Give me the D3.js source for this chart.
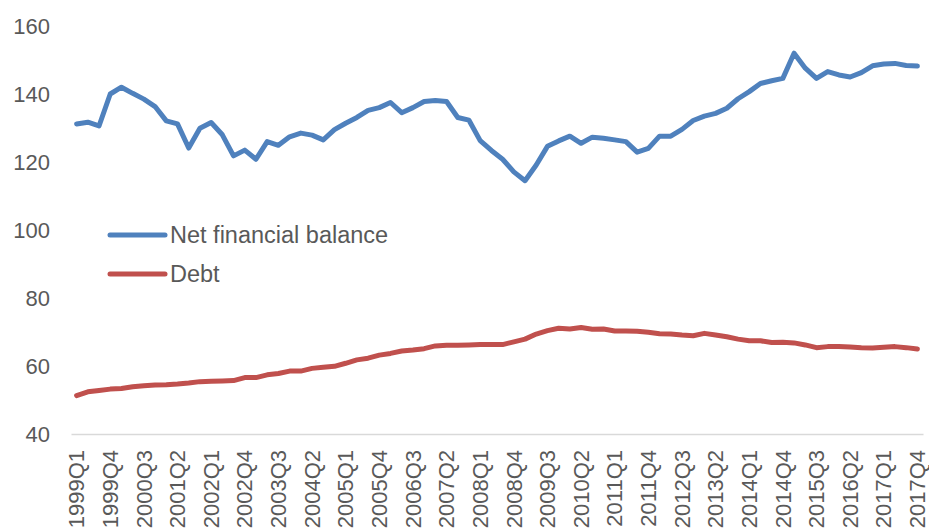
<!DOCTYPE html>
<html>
<head>
<meta charset="utf-8">
<script src="https://cdn.jsdelivr.net/npm/d3@7"></script>
<style>
  body { margin: 0; background: #fff; }
  text { font-family: "Liberation Sans", Arial, sans-serif; fill: #595959; }
</style>
</head>
<body>
<div id="chart"></div>
<script>
// quarters 1999Q1 .. 2017Q4
const years = d3.range(1999, 2018);
const quarters = years.flatMap(y => [1, 2, 3, 4].map(q => y + "Q" + q));

const netFinancialBalance = [
  131.2, 131.7, 130.6, 140.0, 142.0, 140.2, 138.5, 136.3, 132.1, 131.2,
  124.1, 129.9, 131.6, 128.0, 121.8, 123.5, 120.8, 126.0, 124.9, 127.4,
  128.5, 127.9, 126.5, 129.5, 131.4, 133.1, 135.2, 136.0, 137.5, 134.5,
  136.0, 137.8, 138.1, 137.8, 133.1, 132.3, 126.3, 123.4, 120.8, 117.1,
  114.5, 119.1, 124.6, 126.2, 127.6, 125.5, 127.3, 127.0, 126.5, 126.0,
  122.9, 124.0, 127.6, 127.6, 129.6, 132.2, 133.5, 134.3, 135.8, 138.6,
  140.7, 143.1, 143.9, 144.6, 152.0, 147.6, 144.6, 146.6, 145.6, 145.0,
  146.3, 148.3, 148.8, 149.0, 148.4, 148.2
];

const debt = [
  51.3, 52.4, 52.8, 53.2, 53.4, 53.9, 54.2, 54.4, 54.5, 54.7,
  55.0, 55.4, 55.5, 55.6, 55.7, 56.6, 56.6, 57.4, 57.8, 58.5,
  58.5, 59.3, 59.6, 59.9, 60.8, 61.8, 62.3, 63.2, 63.7, 64.4,
  64.7, 65.1, 65.9, 66.1, 66.1, 66.2, 66.3, 66.3, 66.3, 67.1,
  67.9, 69.4, 70.4, 71.1, 70.9, 71.3, 70.8, 70.9, 70.3, 70.3,
  70.2, 69.9, 69.5, 69.4, 69.1, 68.9, 69.6, 69.1, 68.6, 67.9,
  67.4, 67.4, 66.9, 67.0, 66.8, 66.2, 65.4, 65.7, 65.7, 65.6,
  65.4, 65.3, 65.5, 65.7, 65.4, 65.0
];

const yTicks = [40, 60, 80, 100, 120, 140, 160];
const xTickLabels = quarters.filter((d, i) => i % 3 === 0);

const series = [
  { name: "Net financial balance", values: netFinancialBalance, color: "#4f81bd" },
  { name: "Debt", values: debt, color: "#c0504d" }
];

const width = 929, height = 532;
const svg = d3.select("#chart").append("svg")
  .attr("width", width)
  .attr("height", height);

const x = d3.scaleBand()
  .domain(quarters)
  .range([71, 923]);

const y = d3.scaleLinear()
  .domain([40, 160])
  .range([434, 26]);

// y axis labels (no gridlines, only baseline)
const yAxis = svg.append("g")
  .attr("transform", "translate(50,0)")
  .call(d3.axisLeft(y).tickValues(yTicks).tickSize(0).tickPadding(0));
yAxis.select(".domain").remove();
yAxis.selectAll("text")
  .style("font-size", "22px")
  .attr("fill", "#595959");

// x axis
const xAxis = svg.append("g")
  .attr("transform", "translate(0,434)")
  .call(d3.axisBottom(x).tickValues(xTickLabels).tickSize(0));
xAxis.select(".domain").attr("stroke", "#d9d9d9").attr("stroke-width", 1.5);
xAxis.selectAll("text")
  .style("font-size", "22px")
  .attr("fill", "#595959")
  .attr("text-anchor", "end")
  .attr("transform", "rotate(-90)")
  .attr("x", -16)
  .attr("y", 0)
  .attr("dy", "0.35em");

const line = d3.line()
  .x((d, i) => x(quarters[i]) + x.bandwidth() / 2)
  .y(d => y(d));

svg.selectAll(".series")
  .data(series)
  .enter()
  .append("path")
  .attr("class", "series")
  .attr("d", d => line(d.values))
  .attr("fill", "none")
  .attr("stroke", d => d.color)
  .attr("stroke-width", 5)
  .attr("stroke-linejoin", "round")
  .attr("stroke-linecap", "round");

// legend
const legend = svg.append("g");
const legendItems = legend.selectAll("g")
  .data(series)
  .enter()
  .append("g")
  .attr("transform", (d, i) => `translate(110,${235 + i * 39})`);
legendItems.append("line")
  .attr("x1", 0).attr("x2", 55)
  .attr("stroke", d => d.color)
  .attr("stroke-width", 5)
  .attr("stroke-linecap", "round");
legendItems.append("text")
  .attr("x", 60)
  .attr("dy", "0.35em")
  .style("font-size", "23.5px")
  .text(d => d.name);
</script>
</body>
</html>
